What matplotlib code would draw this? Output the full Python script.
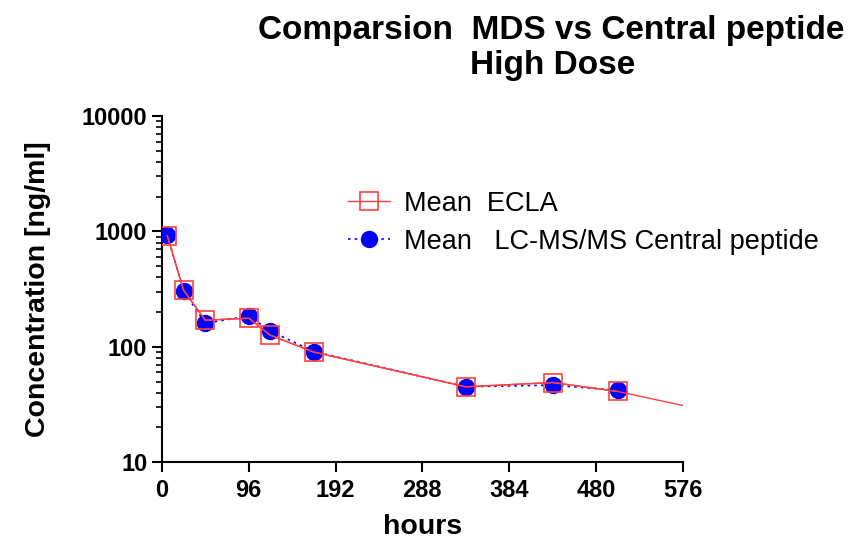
import matplotlib.pyplot as plt
import numpy as np

plt.rcParams["font.family"] = ["Liberation Sans", "DejaVu Sans"]

# sampling times (hours)
hours = [6, 24, 48, 96, 120, 168, 336, 432, 504]
ecla = [920, 310, 170, 177, 126, 90, 45, 49, 41]
lcms = [930, 305, 160, 185, 137, 91, 45, 46.5, 42]
# ECLA curve continues to the end of the axis
ecla_end_x = 576
ecla_end_y = 31

fig = plt.figure(figsize=(8.61, 5.43), dpi=100)
ax = fig.add_axes([0.188, 0.149, 0.605, 0.637])

ax.plot(hours, lcms, ls=(0, (1.5, 2.5)), lw=1.2, color="blue", marker="o",
        markersize=11.5, label="Mean   LC-MS/MS Central peptide", zorder=3)
ax.plot(hours + [ecla_end_x], ecla + [ecla_end_y], color="#ff4040", lw=1.0,
        zorder=4)
ax.plot(hours, ecla, ls="-", lw=1.0, color="#ff4040", marker="s",
        markersize=13, markerfacecolor="none", markeredgewidth=1.2,
        label="Mean  ECLA", zorder=5)

ax.set_yscale("log")
ax.set_ylim(10, 10000)
ax.set_xlim(0, 576)
ax.set_xticks(np.arange(0, 577, 96))
ax.set_yticks([10, 100, 1000, 10000])
ax.set_yticklabels(["10", "100", "1000", "10000"])

for s in ["top", "right"]:
    ax.spines[s].set_visible(False)
for s in ["left", "bottom"]:
    ax.spines[s].set_linewidth(1.5)
ax.tick_params(axis="both", which="major", direction="out", length=7.5,
               width=1.5, labelsize=17, pad=3)
ax.tick_params(axis="x", which="major", pad=5)
ax.tick_params(axis="y", which="minor", direction="out", length=4, width=1.2)
ax.tick_params(axis="x", which="minor", bottom=False)
for lab in ax.get_xticklabels() + ax.get_yticklabels():
    lab.set_fontweight("bold")

ax.set_xlabel("hours", fontsize=20.5, fontweight="bold", labelpad=8)
ax.set_ylabel("Concentration [ng/ml]", fontsize=20.5, fontweight="bold",
              labelpad=22)

h, l = ax.get_legend_handles_labels()
ax.legend(h[::-1], l[::-1], loc="center left", bbox_to_anchor=(0.388, 0.59),
          bbox_transform=fig.transFigure, borderpad=0, frameon=False,
          fontsize=19.5, handlelength=1.55, handletextpad=0.55,
          labelspacing=0.45)

fig.text(0.64, 0.943, "Comparsion  MDS vs Central peptide", ha="center",
         va="center", fontsize=24, fontweight="bold")
fig.text(0.642, 0.88, "High Dose", ha="center", va="center", fontsize=24,
         fontweight="bold")

fig.savefig("out.png", dpi=100)
